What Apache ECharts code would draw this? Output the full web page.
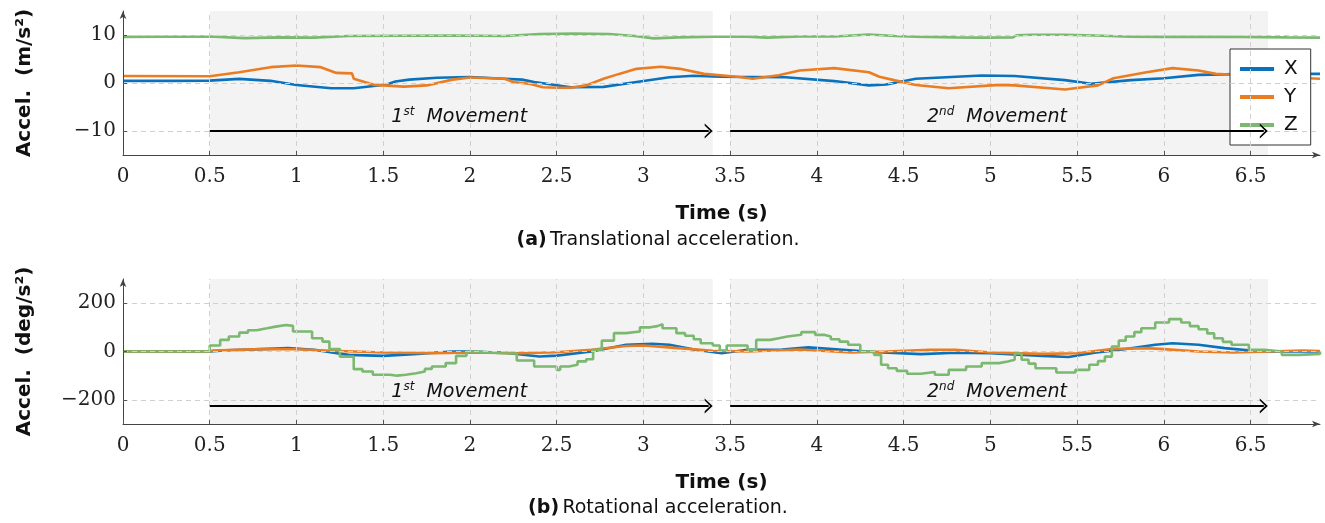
<!DOCTYPE html>
<html>
<head>
<meta charset="utf-8">
<script src="https://cdn.jsdelivr.net/npm/echarts@6/dist/echarts.min.js"></script>
<style>html,body{margin:0;padding:0;background:#fff}#c{width:1325px;height:523px}</style>
</head>
<body>
<div id="c"></div>
<script>
// ---- tick labels ----
const xTicks = [0,0.5,1,1.5,2,2.5,3,3.5,4,4.5,5,5.5,6,6.5];
const accYTicks = [-10,0,10];
const rotYTicks = [-200,0,200];
const seriesNames = ['X','Y','Z'];
const movementSpans = [[0.5,3.4],[3.5,6.6]];
const movementLabels = ['1st','2nd'];

// ---- (a) translational acceleration (m/s^2) ----
const tAccX = [0,0.3,0.5,0.67,0.85,1.0,1.2,1.33,1.52,1.57,1.65,1.81,2.0,2.2,2.3,2.37,2.58,2.77,2.96,3.15,3.29,3.44,3.82,4.1,4.3,4.4,4.57,4.95,5.14,5.43,5.58,5.81,6.0,6.2,6.5,6.9];
const vAccX = [0.45,0.45,0.5,0.85,0.45,-0.4,-1.1,-1.1,-0.3,0.3,0.7,1.1,1.25,0.9,0.7,0.2,-0.9,-0.8,0.2,1.2,1.5,1.3,1.2,0.4,-0.5,-0.3,0.9,1.55,1.45,0.6,-0.15,0.6,1.0,1.7,1.9,1.9];

const tAccY = [0,0.5,0.67,0.85,1.0,1.14,1.23,1.32,1.33,1.45,1.62,1.75,1.9,2.0,2.2,2.25,2.35,2.42,2.5,2.58,2.67,2.77,2.86,2.96,3.1,3.21,3.35,3.54,3.63,3.78,3.9,4.1,4.3,4.36,4.45,4.57,4.76,5.05,5.14,5.43,5.62,5.71,5.9,6.05,6.2,6.3,6.5,6.7,6.9];
const vAccY = [1.45,1.4,2.25,3.3,3.65,3.3,2.1,2.0,0.9,-0.4,-0.75,-0.5,0.7,1.15,0.9,0.2,-0.2,-0.9,-1.0,-1.0,-0.5,0.9,1.9,2.95,3.4,2.95,1.9,1.3,0.9,1.6,2.6,3.1,2.25,1.3,0.55,-0.4,-1.1,-0.4,-0.5,-1.35,-0.5,1.0,2.25,3.1,2.6,1.9,1.5,1.2,0.9];

const tAccZ = [0,0.5,0.7,0.9,1.1,1.3,1.6,1.9,2.2,2.4,2.6,2.8,2.95,3.06,3.2,3.4,3.6,3.71,3.9,4.1,4.3,4.45,4.57,4.8,4.95,5.13,5.15,5.24,5.43,5.6,5.81,6.0,6.3,6.71,6.9];
const vAccZ = [9.6,9.7,9.35,9.5,9.45,9.8,9.85,9.9,9.8,10.2,10.3,10.2,9.8,9.3,9.5,9.65,9.65,9.45,9.7,9.7,10.1,9.8,9.65,9.5,9.45,9.5,9.95,10.05,10.05,9.9,9.65,9.6,9.65,9.5,9.45];

// ---- (b) rotational acceleration (deg/s^2) ----
const tRotX = [0,0.5,0.6,0.8,0.95,1.1,1.3,1.5,1.7,1.9,2.0,2.2,2.4,2.5,2.7,2.9,3.05,3.15,3.3,3.45,3.6,3.8,3.95,4.15,4.35,4.6,4.8,5.0,5.3,5.45,5.6,5.75,5.95,6.05,6.2,6.35,6.5,6.6,6.9];
const vRotX = [0,0,5,10,14,7,-14,-18,-10,0,0,-5,-21,-17,0,28,32,28,7,-7,7,8,17,7,-3,-11,-5,-7,-18,-23,-5,7,28,34,28,14,4,0,0];

const tRotY = [0,0.5,0.52,0.8,1.0,1.2,1.5,1.8,2.0,2.3,2.5,2.7,2.9,3.0,3.2,3.4,3.6,3.9,4.2,4.4,4.65,4.8,5.0,5.3,5.5,5.7,5.9,6.0,6.2,6.4,6.6,6.8,6.9];
const vRotY = [0,0,4,10,9,3,-4,-7,-4,-7,-3,7,23,25,14,3,0,8,-4,0,7,7,-4,-10,-7,10,14,10,0,-4,0,4,2];

const tRotZ = [0,0.5,0.56,0.61,0.67,0.72,0.77,0.83,0.88,0.94,0.98,1.06,1.09,1.15,1.19,1.25,1.33,1.38,1.44,1.54,1.58,1.63,1.69,1.74,1.78,1.86,1.92,1.98,2.04,2.18,2.27,2.37,2.5,2.52,2.57,2.62,2.67,2.71,2.76,2.83,2.9,2.98,3.04,3.08,3.11,3.19,3.24,3.29,3.33,3.4,3.44,3.48,3.6,3.65,3.73,3.78,3.83,3.91,3.99,4.04,4.08,4.13,4.18,4.25,4.33,4.37,4.41,4.46,4.52,4.6,4.68,4.76,4.86,4.95,5.05,5.1,5.14,5.18,5.22,5.26,5.38,5.49,5.57,5.62,5.66,5.7,5.74,5.78,5.83,5.87,5.95,6.03,6.1,6.15,6.2,6.25,6.29,6.34,6.39,6.49,6.58,6.68,6.78,6.9];
const vRotZ = [0,25,48,62,78,88,96,103,110,106,83,83,55,41,10,-21,-73,-83,-96,-100,-96,-90,-83,-72,-62,-48,-18,0,-7,-8,-37,-62,-76,-62,-55,-41,-32,7,45,76,83,100,105,113,96,76,65,51,34,25,4,25,7,48,55,62,69,80,69,62,51,41,28,0,-14,-55,-69,-80,-92,-85,-96,-76,-62,-48,-41,-34,-8,-34,-50,-69,-87,-76,-55,-40,-21,21,45,62,80,96,120,134,120,105,92,75,55,40,28,7,0,-14,-10,0];

const colors = ['#0a72bd','#ea7d22','#7bb870'];

function zip(t, v) { return t.map((x, i) => [x, v[i]]); }
const minus = v => String(v).replace('-', '\u2212');
const serifLbl = {fontFamily:'DejaVu Serif', fontSize:20, color:'#222'};
const chevron = 'path://M0,10 L5,0 L10,10 L8.6,10 L5,3.2 L1.4,10 Z';
const tipShift = 0.024; // half the arrowhead depth, in seconds, so the tip lands on the span end

function mkX(i) {
  return {
    type:'value', gridIndex:i, min:0, max:6.9, interval:0.5, z:5,
    axisLine:{onZero:false, lineStyle:{color:'#444', width:1}, symbol:['none','arrow'], symbolSize:[5,8]},
    axisTick:{inside:true, length:4, customValues:xTicks, lineStyle:{color:'#555'}},
    axisLabel:Object.assign({customValues:xTicks, margin:12}, serifLbl),
    splitLine:{show:false},
    name:'Time (s)', nameLocation:'middle', nameGap:49,
    nameTextStyle:{fontFamily:'DejaVu Sans', fontWeight:'bold', fontSize:20, color:'#111'}
  };
}
function mkY(i, mn, mx, ticks, nm) {
  return {
    type:'value', gridIndex:i, min:mn, max:mx, z:5,
    axisLine:{show:true, onZero:false, lineStyle:{color:'#444', width:1}, symbol:['none','arrow'], symbolSize:[5,8]},
    axisTick:{show:true, inside:true, length:4, customValues:ticks, lineStyle:{color:'#555'}},
    axisLabel:Object.assign({customValues:ticks, margin:7, formatter:minus}, serifLbl),
    splitLine:{show:false},
    name:nm, nameLocation:'middle', nameGap:88,
    nameTextStyle:{fontFamily:'DejaVu Sans', fontWeight:'bold', fontSize:20, color:'#111'}
  };
}
function helperSeries(i, ticks, arrowY) {
  const shade = {
    type:'line', xAxisIndex:i, yAxisIndex:i, data:[], symbol:'none', silent:true, z:1,
    markArea:{silent:true, itemStyle:{color:'#f3f3f3'},
      data: movementSpans.map(s => [{xAxis:s[0]},{xAxis:s[1]}])}
  };
  const gridLines = {
    type:'line', xAxisIndex:i, yAxisIndex:i, data:[], symbol:'none', silent:true, z:2,
    markLine:{silent:true, symbol:['none','none'], label:{show:false},
      lineStyle:{color:'#d0d0d0', width:1, type:[5,4]},
      data: xTicks.filter(x => x > 0).map(x => ({xAxis:x})).concat(ticks.map(y => ({yAxis:y})))}
  };
  const arrows = {
    type:'line', xAxisIndex:i, yAxisIndex:i, data:[], symbol:'none', silent:true, z:4,
    markLine:{silent:true, symbol:['none', chevron], symbolSize:[15,8],
      lineStyle:{color:'#000', width:2, type:'solid'},
      data: movementSpans.map((s, k) => [
        {coord:[s[0], arrowY], label:{show:true, position:'insideMiddleTop', distance:3,
          formatter:'{n|' + movementLabels[k].charAt(0) + '}{s|' + movementLabels[k].slice(1) + '}{n|  Movement}',
          rich:{
            n:{fontFamily:'DejaVu Sans', fontStyle:'italic', fontSize:19, color:'#111', lineHeight:22},
            s:{fontFamily:'DejaVu Sans', fontStyle:'italic', fontSize:12, color:'#111', lineHeight:12, verticalAlign:'top'}
          }}},
        {coord:[s[1] - tipShift, arrowY]}
      ])}
  };
  return [shade, gridLines, arrows];
}
function dataSeries(i, sets, stepZ) {
  return sets.map((d, k) => ({
    name:seriesNames[k], type:'line', xAxisIndex:i, yAxisIndex:i, data:d,
    symbol:'none', showSymbol:false, z:3, step:(stepZ && k===2) ? 'end' : false,
    lineStyle:{color:colors[k], width:2.6}, itemStyle:{color:colors[k]}
  }));
}

const chart = echarts.init(document.getElementById('c'), null, {renderer:'canvas'});
const option = {
  animation:false,
  color:colors,
  grid:[{left:123, right:5, top:11, height:144}, {left:123, right:5, top:279, height:145}],
  xAxis:[mkX(0), mkX(1)],
  yAxis:[mkY(0,-15,15,accYTicks,'Accel.  (m/s²)'), mkY(1,-300,300,rotYTicks,'Accel.  (deg/s²)')],
  legend:{
    data:seriesNames, orient:'vertical', left:1230, top:49,
    backgroundColor:'#fff', borderColor:'#333', borderWidth:1, borderRadius:0,
    padding:[10,13,10,10], itemWidth:34, itemHeight:4, itemGap:8, icon:'rect',
    textStyle:{fontFamily:'DejaVu Sans', fontSize:20, color:'#111', padding:[0,0,0,5]}
  },
  graphic:[
    {type:'text', x:658, y:240, silent:true, style:{
      text:'{b|(a)} {r|Translational acceleration.}', align:'center', verticalAlign:'middle',
      rich:{b:{fontFamily:'DejaVu Sans', fontWeight:'bold', fontSize:19, fill:'#111'},
            r:{fontFamily:'DejaVu Sans', fontSize:19, fill:'#111'}}}},
    {type:'text', x:658, y:508, silent:true, style:{
      text:'{b|(b)} {r|Rotational acceleration.}', align:'center', verticalAlign:'middle',
      rich:{b:{fontFamily:'DejaVu Sans', fontWeight:'bold', fontSize:19, fill:'#111'},
            r:{fontFamily:'DejaVu Sans', fontSize:19, fill:'#111'}}}}
  ],
  series:[].concat(
    helperSeries(0, accYTicks, -10),
    dataSeries(0, [zip(tAccX,vAccX), zip(tAccY,vAccY), zip(tAccZ,vAccZ)], false),
    helperSeries(1, rotYTicks, -225),
    dataSeries(1, [zip(tRotX,vRotX), zip(tRotY,vRotY), zip(tRotZ,vRotZ)], true)
  )
};
chart.setOption(option);
</script>
</body>
</html>
